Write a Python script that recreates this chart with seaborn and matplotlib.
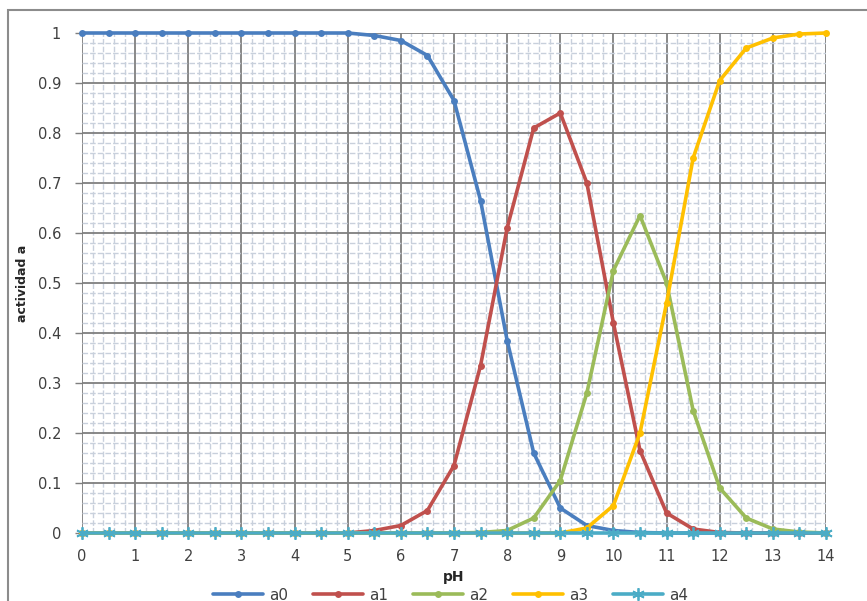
import numpy as np
import pandas as pd
import matplotlib
matplotlib.use("Agg")
import matplotlib.pyplot as plt
import seaborn as sns
from matplotlib.ticker import MultipleLocator

ph = [0, 0.5, 1, 1.5, 2, 2.5, 3, 3.5, 4, 4.5, 5, 5.5, 6, 6.5, 7, 7.5, 8, 8.5, 9, 9.5,
      10, 10.5, 11, 11.5, 12, 12.5, 13, 13.5, 14]
a0 = [1, 1, 1, 1, 1, 1, 1, 1, 1, 1, 1, 0.995, 0.985, 0.955, 0.865, 0.665, 0.385, 0.16,
      0.05, 0.015, 0.005, 0.001, 0, 0, 0, 0, 0, 0, 0]
a1 = [0, 0, 0, 0, 0, 0, 0, 0, 0, 0, 0, 0.005, 0.015, 0.045, 0.135, 0.335, 0.61, 0.81,
      0.84, 0.70, 0.42, 0.165, 0.04, 0.008, 0.001, 0, 0, 0, 0]
a2 = [0, 0, 0, 0, 0, 0, 0, 0, 0, 0, 0, 0, 0, 0, 0, 0.001, 0.005, 0.03, 0.105, 0.28,
      0.525, 0.635, 0.50, 0.245, 0.09, 0.03, 0.008, 0.002, 0]
a3 = [0, 0, 0, 0, 0, 0, 0, 0, 0, 0, 0, 0, 0, 0, 0, 0, 0, 0, 0, 0.01, 0.055, 0.20,
      0.46, 0.75, 0.905, 0.97, 0.99, 0.998, 1.0]
a4 = [0] * 29

series_names = ["a0", "a1", "a2", "a3", "a4"]
series_vals = [a0, a1, a2, a3, a4]
colors = ["#4a7ebf", "#c0504d", "#9bbb59", "#ffc000", "#4bacc6"]
markers = ["o", "o", "o", "o", (6, 2, 0)]

y_ticks = [0, 0.1, 0.2, 0.3, 0.4, 0.5, 0.6, 0.7, 0.8, 0.9, 1]
y_tick_labels = ["0", "0.1", "0.2", "0.3", "0.4", "0.5", "0.6", "0.7", "0.8", "0.9", "1"]
x_ticks = list(range(15))
x_tick_labels = [str(v) for v in x_ticks]

df = pd.DataFrame({"pH": ph * 5,
                   "val": sum(series_vals, []),
                   "serie": sum([[n] * len(ph) for n in series_names], [])})

sns.set_style("white")
fig = plt.figure(figsize=(8.67, 6.01), dpi=100)
ax = fig.add_axes([82 / 867, 1 - 533 / 601, (826 - 82) / 867, 500 / 601])

# Figure frame (partially visible)
fig.patches.append(plt.Rectangle((8 / 867, -0.05), 1.2, 1 - 10 / 601 + 0.05,
                                 transform=fig.transFigure, fill=False,
                                 edgecolor="#8c8c8c", linewidth=1.5, zorder=0))

for name, col, mk in zip(series_names, colors, markers):
    sub = df[df["serie"] == name]
    ms = 5 if mk == "o" else 9
    mew = 0 if mk == "o" else 1.3
    sns.lineplot(data=sub, x="pH", y="val", ax=ax, color=col, linewidth=2.6,
                 marker=mk, markersize=ms, markeredgewidth=mew,
                 markeredgecolor=col, label=name, clip_on=False, zorder=3)

ax.set_xlim(0, 14)
ax.set_ylim(0, 1)
ax.set_xticks(x_ticks)
ax.set_xticklabels(x_tick_labels)
ax.set_yticks(y_ticks)
ax.set_yticklabels(y_tick_labels)
ax.xaxis.set_minor_locator(MultipleLocator(0.2))
ax.yaxis.set_minor_locator(MultipleLocator(0.02))

ax.grid(which="major", color="#7f7f7f", linewidth=1.3, linestyle="-")
ax.grid(which="minor", color="#c8d0dc", linewidth=1.0, linestyle=(0, (4, 1.5)))
ax.set_axisbelow(True)

for s in ["top", "right", "left"]:
    ax.spines[s].set_visible(False)
ax.spines["bottom"].set_visible(True)
ax.spines["bottom"].set_color("#7f7f7f")

ax.tick_params(axis="y", which="major", left=True, length=5, width=1, color="#7f7f7f",
               labelsize=10.5, labelcolor="#404040", pad=10)
ax.tick_params(axis="x", which="major", bottom=False, labelsize=10.5, labelcolor="#404040", pad=8)
ax.tick_params(which="minor", left=False, bottom=False)

ax.set_xlabel("pH", fontsize=10, fontweight="bold", labelpad=4)
ax.set_ylabel("actividad a", fontsize=9, fontweight="bold", labelpad=6)

ax.legend(loc="center", bbox_to_anchor=(0.52, 1 - 595 / 601), bbox_transform=fig.transFigure,
          ncol=5, frameon=False, fontsize=11, handlelength=3.3, columnspacing=1.6,
          labelcolor="#404040", handletextpad=0.4)

fig.savefig("out.png", dpi=100)
